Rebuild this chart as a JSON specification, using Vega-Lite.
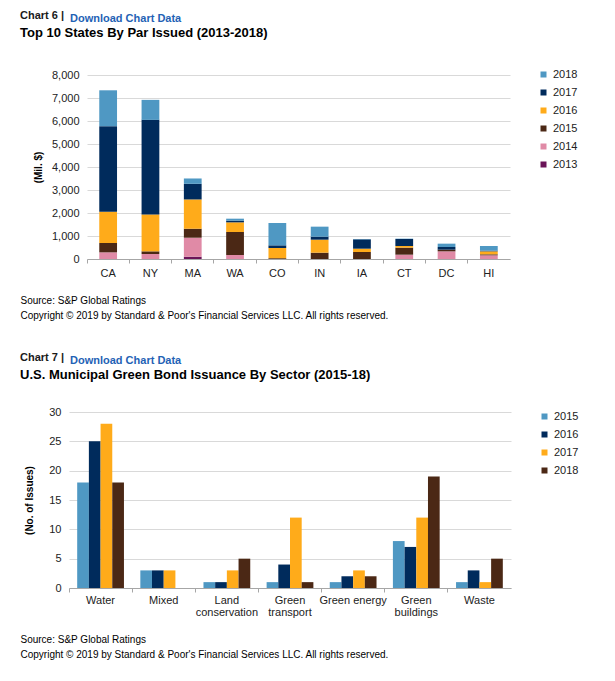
{
  "$schema": "https://vega.github.io/schema/vega-lite/v6.json",
  "background": "white",
  "padding": {"left": 20, "top": 10, "right": 5, "bottom": 5},
  "spacing": 32,
  "resolve": {"scale": {"color": "independent"}, "legend": {"color": "independent"}},
  "config": {
    "font": "Liberation Sans",
    "view": {"stroke": null},
    "axis": {"labelFont": "Liberation Sans", "titleFont": "Liberation Sans", "labelColor": "#222222", "labelFontSize": 11},
    "legend": {"labelFont": "Liberation Sans", "labelFontSize": 11, "labelColor": "#222222", "symbolType": "square", "symbolSize": 36, "symbolStrokeWidth": 0, "rowPadding": 6, "title": null, "orient": "none"}
  },
  "datasets": {
    "states": [
      {"state": "CA", "year": "2013", "value": 0},
      {"state": "CA", "year": "2014", "value": 290},
      {"state": "CA", "year": "2015", "value": 405},
      {"state": "CA", "year": "2016", "value": 1360},
      {"state": "CA", "year": "2017", "value": 3720},
      {"state": "CA", "year": "2018", "value": 1560},
      {"state": "NY", "year": "2014", "value": 217},
      {"state": "NY", "year": "2015", "value": 116},
      {"state": "NY", "year": "2016", "value": 1606},
      {"state": "NY", "year": "2017", "value": 4110},
      {"state": "NY", "year": "2018", "value": 870},
      {"state": "MA", "year": "2013", "value": 100},
      {"state": "MA", "year": "2014", "value": 826},
      {"state": "MA", "year": "2015", "value": 390},
      {"state": "MA", "year": "2016", "value": 1273},
      {"state": "MA", "year": "2017", "value": 680},
      {"state": "MA", "year": "2018", "value": 232},
      {"state": "WA", "year": "2014", "value": 174},
      {"state": "WA", "year": "2015", "value": 1000},
      {"state": "WA", "year": "2016", "value": 420},
      {"state": "WA", "year": "2017", "value": 72},
      {"state": "WA", "year": "2018", "value": 87},
      {"state": "CO", "year": "2015", "value": 35},
      {"state": "CO", "year": "2016", "value": 443},
      {"state": "CO", "year": "2017", "value": 116},
      {"state": "CO", "year": "2018", "value": 971},
      {"state": "IN", "year": "2015", "value": 275},
      {"state": "IN", "year": "2016", "value": 565},
      {"state": "IN", "year": "2017", "value": 131},
      {"state": "IN", "year": "2018", "value": 435},
      {"state": "IA", "year": "2015", "value": 304},
      {"state": "IA", "year": "2016", "value": 145},
      {"state": "IA", "year": "2017", "value": 406},
      {"state": "IA", "year": "2018", "value": 15},
      {"state": "CT", "year": "2014", "value": 188},
      {"state": "CT", "year": "2015", "value": 305},
      {"state": "CT", "year": "2016", "value": 72},
      {"state": "CT", "year": "2017", "value": 305},
      {"state": "CT", "year": "2018", "value": 15},
      {"state": "DC", "year": "2014", "value": 333},
      {"state": "DC", "year": "2015", "value": 73},
      {"state": "DC", "year": "2017", "value": 116},
      {"state": "DC", "year": "2018", "value": 145},
      {"state": "HI", "year": "2014", "value": 160},
      {"state": "HI", "year": "2015", "value": 43},
      {"state": "HI", "year": "2016", "value": 130},
      {"state": "HI", "year": "2017", "value": 29},
      {"state": "HI", "year": "2018", "value": 203}
    ],
    "sectors": [
      {"sector": "Water", "year": "2015", "issues": 18},
      {"sector": "Water", "year": "2016", "issues": 25},
      {"sector": "Water", "year": "2017", "issues": 28},
      {"sector": "Water", "year": "2018", "issues": 18},
      {"sector": "Mixed", "year": "2015", "issues": 3},
      {"sector": "Mixed", "year": "2016", "issues": 3},
      {"sector": "Mixed", "year": "2017", "issues": 3},
      {"sector": "Mixed", "year": "2018", "issues": 0},
      {"sector": "Land conservation", "year": "2015", "issues": 1},
      {"sector": "Land conservation", "year": "2016", "issues": 1},
      {"sector": "Land conservation", "year": "2017", "issues": 3},
      {"sector": "Land conservation", "year": "2018", "issues": 5},
      {"sector": "Green transport", "year": "2015", "issues": 1},
      {"sector": "Green transport", "year": "2016", "issues": 4},
      {"sector": "Green transport", "year": "2017", "issues": 12},
      {"sector": "Green transport", "year": "2018", "issues": 1},
      {"sector": "Green energy", "year": "2015", "issues": 1},
      {"sector": "Green energy", "year": "2016", "issues": 2},
      {"sector": "Green energy", "year": "2017", "issues": 3},
      {"sector": "Green energy", "year": "2018", "issues": 2},
      {"sector": "Green buildings", "year": "2015", "issues": 8},
      {"sector": "Green buildings", "year": "2016", "issues": 7},
      {"sector": "Green buildings", "year": "2017", "issues": 12},
      {"sector": "Green buildings", "year": "2018", "issues": 19},
      {"sector": "Waste", "year": "2015", "issues": 1},
      {"sector": "Waste", "year": "2016", "issues": 3},
      {"sector": "Waste", "year": "2017", "issues": 1},
      {"sector": "Waste", "year": "2018", "issues": 5}
    ]
  },
  "vconcat": [
    {
      "title": {"text": "Download Chart Data", "anchor": "start", "frame": "bounds", "dx": 50, "dy": 14, "offset": 0, "fontSize": 11, "fontWeight": "bold", "color": "#1f62b5", "font": "Liberation Sans"},
      "spacing": -50,
      "hconcat": [
        {
          "width": 1,
          "height": 1,
          "data": {"values": []},
          "mark": {"type": "point"}
        },
        {
          "width": 423,
          "height": 184,
          "title": {"text": "Chart 6  |", "subtitle": "Top 10 States By Par Issued (2013-2018)", "anchor": "start", "frame": "group", "dx": -67, "offset": 29, "fontSize": 11, "fontWeight": "bold", "color": "#1a1a1a", "font": "Liberation Sans", "subtitleFont": "Liberation Sans", "subtitleFontSize": 13, "subtitleFontWeight": "bold", "subtitleColor": "#000000", "subtitlePadding": 6},
          "data": {"name": "states"},
          "mark": {"type": "bar", "width": {"band": 0.42}},
          "encoding": {
            "x": {"field": "state", "type": "nominal", "sort": ["CA", "NY", "MA", "WA", "CO", "IN", "IA", "CT", "DC", "HI"],
              "scale": {"paddingInner": 0, "paddingOuter": 0},
              "axis": {"labelAngle": 0, "grid": false, "bandPosition": 0, "domainColor": "#a6a6a6", "tickColor": "#a6a6a6", "tickSize": 4, "labelPadding": 4,
                "title": ["Source: S&P Global Ratings", "Copyright © 2019 by Standard & Poor's Financial Services LLC. All rights reserved."],
                "titleFontSize": 10, "titleFontWeight": "normal", "titleColor": "#000000", "titleAnchor": "start", "titleAlign": "left", "titleBaseline": "alphabetic", "titleX": -67, "titleY": 44, "titleLineHeight": 15}},
            "y": {"field": "value", "type": "quantitative", "aggregate": "sum", "stack": "zero",
              "scale": {"domain": [0, 8000]},
              "axis": {"values": [0, 1000, 2000, 3000, 4000, 5000, 6000, 7000, 8000], "format": ",.0f", "domain": false, "ticks": false, "gridColor": "#d9d9d9", "labelPadding": 8,
                "title": "(Mil. $)", "titleFontSize": 10, "titleFontWeight": "bold", "titleColor": "#000000", "titlePadding": 8}},
            "color": {"field": "year", "type": "nominal",
              "scale": {"domain": ["2018", "2017", "2016", "2015", "2014", "2013"], "range": ["#4f98c3", "#002b5c", "#ffab1a", "#4b2815", "#e08aa6", "#6b1458"]},
              "legend": {"orient": "none", "legendX": 469, "legendY": -6}},
            "order": {"field": "year", "type": "ordinal", "sort": "ascending"}
          }
        }
      ]
    },
    {
      "title": {"text": "Download Chart Data", "anchor": "start", "frame": "bounds", "dx": 50, "dy": 14, "offset": 0, "fontSize": 11, "fontWeight": "bold", "color": "#1f62b5", "font": "Liberation Sans"},
      "vconcat": [
        {
          "width": 442,
          "height": 176,
          "title": {"text": "Chart 7  |", "subtitle": "U.S. Municipal Green Bond Issuance By Sector (2015-18)", "anchor": "start", "frame": "group", "dx": -49, "offset": 24, "fontSize": 11, "fontWeight": "bold", "color": "#1a1a1a", "font": "Liberation Sans", "subtitleFont": "Liberation Sans", "subtitleFontSize": 13, "subtitleFontWeight": "bold", "subtitleColor": "#000000", "subtitlePadding": 6},
          "data": {"name": "sectors"},
          "mark": {"type": "bar"},
          "encoding": {
            "x": {"field": "sector", "type": "nominal", "sort": ["Water", "Mixed", "Land conservation", "Green transport", "Green energy", "Green buildings", "Waste"],
              "scale": {"paddingInner": 0, "paddingOuter": 0},
              "axis": {"labelAngle": 0, "grid": false, "bandPosition": 0, "domainColor": "#a6a6a6", "tickColor": "#a6a6a6", "tickSize": 4, "labelPadding": 2, "labelLineHeight": 12,
                "labelExpr": "datum.value == 'Green energy' ? datum.value : split(datum.value, ' ')",
                "title": ["Source: S&P Global Ratings", "Copyright © 2019 by Standard & Poor's Financial Services LLC. All rights reserved."],
                "titleFontSize": 10, "titleFontWeight": "normal", "titleColor": "#000000", "titleAnchor": "start", "titleAlign": "left", "titleBaseline": "alphabetic", "titleX": -49, "titleY": 54, "titleLineHeight": 15}},
            "xOffset": {"field": "year", "type": "nominal", "scale": {"paddingInner": 0, "paddingOuter": 0.7}},
            "y": {"field": "issues", "type": "quantitative",
              "scale": {"domain": [0, 30]},
              "axis": {"values": [0, 5, 10, 15, 20, 25, 30], "domain": false, "ticks": false, "gridColor": "#d9d9d9", "labelPadding": 8,
                "title": "(No. of Issues)", "titleFontSize": 10, "titleFontWeight": "bold", "titleColor": "#000000", "titlePadding": 14}},
            "color": {"field": "year", "type": "nominal",
              "scale": {"domain": ["2015", "2016", "2017", "2018"], "range": ["#4f98c3", "#002b5c", "#ffab1a", "#4b2815"]},
              "legend": {"orient": "none", "legendX": 470, "legendY": -1}}
          }
        }
      ]
    }
  ]
}
